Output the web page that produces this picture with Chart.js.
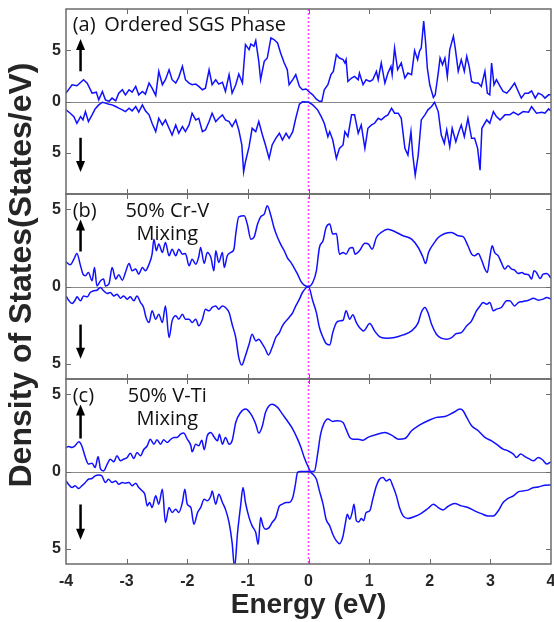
<!DOCTYPE html>
<html>
<head>
<meta charset="utf-8">
<script src="https://cdn.jsdelivr.net/npm/chart.js@4.4.1/dist/chart.umd.min.js"></script>
<style>
  html, body { margin: 0; padding: 0; background: #fff; }
  #wrap { width: 554px; height: 622px; }
</style>
</head>
<body>
<div id="wrap"><canvas id="dosChart" width="554" height="622"></canvas></div>
<script>
// x ticks and the tick values used on every panel
const energyTicks = [-4, -3, -2, -1, 0, 1, 2, 3, 4];
const dosTicks = [-5, 0, 5];

// (a) Ordered SGS phase
const energyAUp = [-4.00,-3.90,-3.82,-3.71,-3.65,-3.57,-3.50,-3.46,-3.40,-3.35,-3.29,-3.24,-3.18,-3.13,-3.07,-3.02,-2.96,-2.91,-2.85,-2.80,-2.74,-2.69,-2.63,-2.58,-2.52,-2.47,-2.41,-2.36,-2.30,-2.25,-2.19,-2.14,-2.08,-2.03,-1.97,-1.92,-1.86,-1.81,-1.75,-1.70,-1.64,-1.59,-1.53,-1.48,-1.42,-1.37,-1.31,-1.26,-1.20,-1.15,-1.09,-1.04,-0.98,-0.95,-0.90,-0.87,-0.82,-0.79,-0.73,-0.68,-0.62,-0.57,-0.51,-0.46,-0.40,-0.35,-0.32,-0.26,-0.21,-0.15,-0.10,-0.04,
  0.00,0.07,0.13,0.18,0.22,0.26,0.32,0.37,0.41,0.46,0.51,0.57,0.60,0.62,0.65,0.71,0.76,0.82,0.84,0.90,0.95,1.01,1.06,1.12,1.15,1.20,1.26,1.31,1.36,1.38,1.42,1.47,1.53,1.59,1.64,1.70,1.75,1.80,1.83,1.86,1.90,1.93,1.96,2.00,2.06,2.09,2.14,2.17,2.21,2.25,2.29,2.33,2.39,2.42,2.47,2.52,2.57,2.61,2.65,2.69,2.74,2.80,2.85,2.91,2.95,2.99,3.02,3.06,3.10,3.16,3.21,3.27,3.32,3.40,3.46,3.51,3.57,3.63,3.68,3.74,3.79,3.85,3.90,3.96,4.00];
const dosAUp = [0.81,1.63,1.53,2.12,1.79,0.81,0.91,0.16,0.98,0.16,0.02,0.33,0.07,0.81,1.14,0.65,1.14,0.91,1.47,0.65,0.98,0.72,1.79,1.30,0.59,2.93,1.63,2.12,3.09,2.12,1.79,2.35,3.42,2.12,1.79,1.63,1.69,1.47,1.14,1.30,3.09,1.63,2.12,1.69,1.86,0.98,2.61,0.81,1.63,2.67,1.79,5.54,5.05,5.60,5.37,5.93,3.91,2.12,3.91,4.23,6.19,6.03,5.70,4.72,3.75,3.09,1.63,2.12,2.61,1.47,1.14,1.21,
  1.00,0.65,0.23,0.02,0.02,1.14,1.63,2.61,2.93,4.56,4.23,4.07,3.75,4.07,1.95,2.28,2.44,2.12,2.77,1.63,2.12,1.95,2.12,2.93,2.12,3.75,1.79,2.77,3.42,2.61,5.21,3.09,3.75,2.28,2.77,2.61,4.95,4.07,4.89,5.21,7.82,5.86,3.26,1.63,0.39,0.65,2.77,4.23,3.58,4.23,2.44,5.05,6.35,5.21,2.93,4.07,2.93,4.40,3.42,1.95,1.79,1.79,1.47,2.93,0.81,0.65,3.75,1.63,2.12,1.47,0.98,0.81,1.14,1.79,0.98,0.33,0.81,0.81,1.04,0.33,0.81,0.65,0.33,0.65,0.65];
const energyADown = [-4.00,-3.93,-3.87,-3.82,-3.76,-3.72,-3.68,-3.63,-3.57,-3.52,-3.46,-3.40,-3.35,-3.29,-3.24,-3.18,-3.13,-3.07,-3.02,-2.96,-2.91,-2.85,-2.80,-2.74,-2.69,-2.63,-2.58,-2.52,-2.47,-2.41,-2.36,-2.30,-2.25,-2.19,-2.14,-2.08,-2.03,-1.97,-1.92,-1.86,-1.81,-1.75,-1.70,-1.64,-1.59,-1.53,-1.48,-1.42,-1.37,-1.31,-1.26,-1.20,-1.15,-1.10,-1.07,-1.04,-0.98,-0.93,-0.87,-0.82,-0.76,-0.71,-0.65,-0.60,-0.54,-0.48,-0.43,-0.37,-0.32,-0.26,-0.21,-0.15,-0.10,
  0.00,0.07,0.15,0.21,0.26,0.32,0.35,0.40,0.46,0.51,0.57,0.60,0.65,0.71,0.76,0.82,0.87,0.93,0.98,1.04,1.09,1.15,1.20,1.26,1.31,1.37,1.42,1.48,1.53,1.59,1.64,1.69,1.72,1.76,1.81,1.86,1.92,1.97,2.03,2.08,2.14,2.19,2.24,2.28,2.33,2.37,2.43,2.48,2.52,2.57,2.63,2.69,2.74,2.79,2.83,2.86,2.94,2.99,3.05,3.10,3.16,3.24,3.32,3.38,3.46,3.54,3.63,3.68,3.76,3.85,3.90,3.96,4.00];
const dosADown = [-0.81,-1.14,-1.47,-2.12,-1.47,-1.79,-0.98,-1.95,-1.30,-0.72,-0.33,-0.07,-0.16,-0.26,-0.33,-0.49,-0.65,-0.81,-0.98,-0.65,-0.91,-0.49,-1.04,-0.33,-0.91,-1.30,-2.12,-2.93,-1.63,-2.28,-1.79,-2.61,-3.26,-2.28,-3.09,-2.44,-2.93,-2.28,-1.14,-1.79,-1.63,-2.93,-2.77,-1.95,-1.14,-1.95,-1.63,-1.30,-1.79,-1.95,-2.44,-1.79,-2.77,-4.23,-6.84,-5.86,-4.40,-2.61,-2.93,-1.95,-3.26,-4.23,-5.54,-4.23,-3.58,-3.09,-3.75,-3.09,-3.58,-2.93,-1.63,-0.26,-0.03,
  -0.05,-0.33,-0.81,-1.47,-2.12,-3.42,-2.93,-3.75,-5.54,-4.56,-4.23,-2.93,-3.42,-1.30,-1.30,-3.09,-2.28,-4.56,-2.61,-2.28,-2.12,-1.63,-1.79,-1.47,-1.30,-0.65,-1.14,-1.14,-1.63,-4.56,-5.21,-2.93,-5.21,-7.17,-5.21,-1.79,-1.30,-0.81,-0.49,-0.07,-0.98,-3.26,-4.07,-2.77,-4.40,-2.61,-3.91,-2.93,-2.28,-3.42,-1.63,-3.58,-3.58,-4.56,-6.68,-2.61,-1.79,-2.12,-0.98,-1.47,-1.79,-1.30,-1.30,-1.04,-1.30,-0.98,-1.04,-0.49,-1.14,-1.04,-1.14,-0.72,-0.91];

// (b) 50% Cr-V mixing
const energyBUp = [-4.00,-3.93,-3.87,-3.82,-3.76,-3.72,-3.68,-3.63,-3.57,-3.53,-3.49,-3.43,-3.38,-3.35,-3.29,-3.24,-3.18,-3.13,-3.07,-3.02,-2.96,-2.91,-2.85,-2.80,-2.74,-2.69,-2.63,-2.58,-2.55,-2.51,-2.47,-2.41,-2.36,-2.30,-2.25,-2.19,-2.14,-2.08,-2.03,-1.97,-1.92,-1.86,-1.81,-1.78,-1.72,-1.67,-1.61,-1.56,-1.53,-1.48,-1.42,-1.39,-1.34,-1.28,-1.23,-1.20,-1.15,-1.06,-1.01,-0.95,-0.90,-0.84,-0.79,-0.73,-0.68,-0.62,-0.57,-0.51,-0.46,-0.40,-0.35,-0.29,-0.24,-0.18,-0.13,-0.07,
  0.00,0.07,0.13,0.18,0.24,0.29,0.35,0.40,0.46,0.51,0.57,0.62,0.68,0.73,0.77,0.84,0.93,0.99,1.05,1.12,1.20,1.31,1.42,1.56,1.70,1.81,1.89,1.93,1.98,2.06,2.14,2.25,2.36,2.47,2.55,2.63,2.69,2.74,2.80,2.85,2.91,2.95,2.99,3.03,3.07,3.13,3.18,3.24,3.29,3.35,3.40,3.46,3.52,3.57,3.63,3.68,3.72,3.76,3.82,3.87,3.93,4.00];
const dosBUp = [1.60,1.41,1.77,2.14,1.34,0.80,0.69,0.91,0.37,1.23,0.04,0.37,0.48,0.04,0.19,1.23,0.48,0.76,0.41,0.91,1.49,1.02,1.13,0.80,1.23,1.02,1.45,2.10,3.07,2.32,2.75,2.21,2.86,1.99,2.42,1.99,2.42,2.10,2.14,1.34,1.77,1.45,1.93,2.53,1.49,2.21,1.88,1.02,2.32,1.56,2.21,1.23,1.99,2.21,2.42,3.40,4.52,4.59,4.05,3.07,3.18,4.05,4.52,4.70,5.24,4.59,3.83,3.18,2.75,2.32,1.88,1.56,1.23,0.80,0.37,0.09,
  0.00,0.26,1.02,2.53,2.97,3.83,4.05,3.40,3.44,2.10,2.21,2.10,2.49,2.53,2.10,2.32,2.81,2.75,2.42,3.18,3.51,3.72,3.57,3.29,3.07,2.53,1.88,1.49,2.21,2.75,3.18,3.44,3.51,3.29,3.23,2.64,2.10,1.99,2.14,1.77,1.13,0.91,1.88,2.64,2.21,1.99,1.56,1.13,1.34,1.13,1.06,0.84,0.91,0.80,0.76,0.48,1.02,0.91,0.52,0.80,0.84,0.54];
const energyBDown = [-4.00,-3.95,-3.90,-3.84,-3.82,-3.76,-3.71,-3.65,-3.60,-3.54,-3.49,-3.43,-3.38,-3.32,-3.27,-3.21,-3.16,-3.10,-3.05,-2.99,-2.94,-2.88,-2.83,-2.77,-2.72,-2.68,-2.63,-2.58,-2.52,-2.47,-2.41,-2.36,-2.30,-2.25,-2.19,-2.14,-2.08,-2.03,-1.97,-1.92,-1.86,-1.81,-1.75,-1.70,-1.64,-1.59,-1.53,-1.48,-1.42,-1.37,-1.31,-1.26,-1.20,-1.15,-1.10,-1.05,-0.98,-0.93,-0.87,-0.82,-0.76,-0.71,-0.66,-0.60,-0.54,-0.48,-0.43,-0.37,-0.32,-0.26,-0.21,-0.15,-0.10,
  0.00,0.07,0.13,0.18,0.24,0.29,0.35,0.40,0.46,0.51,0.57,0.62,0.68,0.73,0.79,0.84,0.91,1.01,1.09,1.17,1.28,1.42,1.56,1.70,1.81,1.86,1.92,1.97,2.03,2.11,2.19,2.28,2.36,2.44,2.52,2.61,2.69,2.77,2.83,2.88,2.94,2.99,3.05,3.10,3.18,3.27,3.32,3.40,3.46,3.54,3.63,3.71,3.79,3.87,3.93,4.00];
const dosBDown = [-0.61,-0.93,-1.10,-0.82,-0.67,-0.93,-0.61,-0.67,-0.39,-0.28,-0.24,-0.06,-0.28,-0.45,-0.39,-0.61,-0.50,-0.76,-0.61,-0.82,-0.67,-0.93,-0.61,-1.04,-1.36,-2.01,-2.34,-1.58,-2.12,-1.80,-2.34,-1.26,-3.31,-2.23,-1.90,-2.12,-1.80,-2.12,-2.12,-2.34,-2.12,-2.55,-2.12,-1.47,-1.58,-1.36,-1.26,-1.47,-1.26,-1.36,-1.69,-2.45,-3.31,-4.61,-5.09,-4.61,-3.74,-3.10,-3.53,-3.42,-3.74,-4.07,-4.44,-3.96,-3.31,-2.99,-2.55,-2.23,-2.01,-1.69,-1.26,-0.82,-0.39,
  -0.02,-0.93,-1.69,-2.66,-3.31,-3.70,-3.79,-2.99,-2.34,-2.23,-2.19,-1.58,-2.12,-1.84,-2.34,-2.66,-2.88,-2.40,-2.88,-3.25,-3.35,-3.31,-3.14,-2.88,-2.34,-1.69,-1.36,-1.69,-2.45,-3.10,-3.35,-3.42,-3.31,-3.05,-2.99,-2.55,-2.23,-1.58,-1.26,-1.04,-1.15,-1.04,-1.58,-1.47,-1.36,-0.93,-0.93,-1.26,-1.04,-0.97,-0.89,-0.76,-0.89,-0.82,-0.71,-0.82];

// (c) 50% V-Ti mixing
const energyCUp = [-4.00,-3.96,-3.90,-3.85,-3.79,-3.74,-3.68,-3.63,-3.57,-3.52,-3.47,-3.43,-3.38,-3.32,-3.27,-3.21,-3.16,-3.10,-3.05,-2.99,-2.94,-2.88,-2.83,-2.77,-2.72,-2.66,-2.61,-2.55,-2.50,-2.44,-2.39,-2.33,-2.28,-2.22,-2.17,-2.11,-2.06,-2.00,-1.94,-1.92,-1.86,-1.81,-1.76,-1.72,-1.67,-1.61,-1.56,-1.50,-1.47,-1.42,-1.37,-1.31,-1.26,-1.20,-1.12,-1.04,-0.95,-0.87,-0.82,-0.76,-0.71,-0.65,-0.60,-0.51,-0.43,-0.35,-0.26,-0.18,-0.13,-0.07,
  0.00,0.04,0.10,0.15,0.20,0.25,0.32,0.40,0.48,0.57,0.62,0.68,0.73,0.82,0.90,0.98,1.09,1.26,1.37,1.48,1.59,1.70,1.83,1.97,2.11,2.25,2.39,2.50,2.55,2.61,2.69,2.80,2.91,3.02,3.10,3.21,3.29,3.38,3.43,3.50,3.57,3.65,3.71,3.79,3.86,3.93,4.00];
const dosCUp = [1.56,1.62,1.56,1.67,1.93,1.67,0.91,0.48,0.54,0.26,0.97,0.15,0.04,0.48,0.80,0.63,1.02,0.69,0.80,0.91,1.19,0.84,1.23,1.02,1.41,1.67,2.10,1.77,2.06,1.77,2.06,1.88,2.06,2.21,2.21,2.42,2.49,2.10,1.67,1.28,1.77,1.67,2.03,1.41,2.32,2.53,2.25,1.99,2.42,1.77,2.21,1.77,1.99,3.18,3.83,4.05,3.72,3.07,2.49,2.97,3.83,4.26,4.37,4.16,3.72,3.29,2.75,2.10,1.62,0.91,
  0.26,0.00,0.04,1.13,2.42,3.07,3.40,3.25,3.29,3.18,2.75,2.21,2.10,2.10,2.03,2.21,2.36,2.53,2.36,2.10,2.14,2.64,3.01,3.29,3.51,3.57,3.83,4.05,3.94,3.51,2.97,2.64,2.21,1.99,1.77,1.45,1.34,1.13,0.91,1.13,0.97,0.80,0.69,0.91,0.76,0.48,0.63];
const energyCDown = [-4.00,-3.96,-3.90,-3.85,-3.79,-3.74,-3.68,-3.63,-3.57,-3.52,-3.46,-3.41,-3.35,-3.30,-3.24,-3.18,-3.13,-3.07,-3.02,-2.96,-2.91,-2.85,-2.80,-2.74,-2.70,-2.66,-2.62,-2.58,-2.52,-2.47,-2.41,-2.36,-2.30,-2.25,-2.19,-2.14,-2.08,-2.04,-2.00,-1.94,-1.89,-1.83,-1.78,-1.72,-1.67,-1.61,-1.59,-1.53,-1.48,-1.42,-1.37,-1.31,-1.26,-1.22,-1.17,-1.12,-1.08,-1.04,-0.98,-0.93,-0.87,-0.83,-0.79,-0.75,-0.71,-0.65,-0.60,-0.54,-0.48,-0.43,-0.37,-0.32,-0.26,-0.22,-0.18,-0.13,
  0.00,0.07,0.13,0.18,0.24,0.29,0.35,0.40,0.46,0.51,0.57,0.61,0.64,0.68,0.72,0.75,0.79,0.83,0.87,0.91,0.95,1.01,1.06,1.12,1.17,1.23,1.28,1.34,1.39,1.45,1.50,1.56,1.64,1.75,1.86,1.97,2.06,2.14,2.22,2.30,2.41,2.52,2.63,2.74,2.85,2.96,3.05,3.13,3.21,3.29,3.38,3.46,3.54,3.63,3.71,3.79,3.90,4.00];
const dosCDown = [-0.61,-0.82,-1.04,-0.93,-1.10,-0.93,-0.71,-0.50,-0.45,-0.28,-0.22,-0.28,-0.71,-0.50,-0.71,-0.61,-0.82,-0.71,-0.76,-0.71,-0.93,-0.76,-1.04,-1.26,-1.47,-2.23,-2.01,-2.34,-1.58,-2.12,-1.15,-3.31,-2.34,-2.66,-2.45,-2.66,-2.01,-1.15,-2.12,-2.34,-3.42,-2.66,-2.34,-1.80,-1.90,-1.58,-1.26,-2.12,-1.47,-2.01,-2.45,-3.31,-4.61,-6.23,-3.96,-2.23,-1.04,-2.01,-2.99,-3.53,-3.96,-4.72,-2.99,-3.53,-3.74,-3.64,-3.31,-2.99,-2.23,-2.12,-2.01,-2.01,-1.69,-0.93,-0.06,0.00,
  0.00,-0.17,-0.50,-1.26,-2.12,-3.10,-3.53,-4.07,-4.50,-4.68,-4.18,-3.31,-2.77,-3.10,-2.66,-2.12,-3.20,-3.27,-3.05,-3.20,-2.66,-2.55,-1.80,-0.93,-0.50,-0.39,-0.61,-0.50,-0.93,-1.58,-2.34,-2.88,-3.05,-2.92,-2.71,-2.40,-2.12,-2.34,-2.49,-2.27,-2.08,-2.23,-2.34,-2.55,-2.73,-2.88,-2.88,-2.55,-2.01,-1.75,-1.58,-1.32,-1.26,-1.19,-1.04,-1.00,-0.89,-0.87];

const textColor = "#262626";
const frameColor = "#6b6b6b";
const lineColor = "#1010ff";
const tickFont = { family: "'Liberation Sans', Arial, sans-serif", size: 16, weight: "bold" };
const noteFont = "20px 'Open Sans', sans-serif";

// panel notes, placed in data units of each panel
const panels = [
  { id: "yA", range: 9, notes: [
      { text: "(a)", x: -3.89, y: 7.45, align: "left" },
      { text: "Ordered SGS Phase", x: -3.37, y: 7.45, align: "left" }],
    arrows: [[2.94, 6.08], [-3.53, -6.86]] },
  { id: "yB", range: 6, notes: [
      { text: "(b)", x: -3.89, y: 4.87, align: "left" },
      { text: "50% Cr-V", x: -2.33, y: 4.87, align: "center" },
      { text: "Mixing", x: -2.33, y: 3.38, align: "center" }],
    arrows: [[2.27, 4.35], [-2.47, -4.68]] },
  { id: "yC", range: 6, notes: [
      { text: "(c)", x: -3.89, y: 4.87, align: "left" },
      { text: "50% V-Ti", x: -2.33, y: 4.87, align: "center" },
      { text: "Mixing", x: -2.33, y: 3.38, align: "center" }],
    arrows: [[2.14, 4.35], [-2.14, -4.42]] },
];
const arrowEnergy = -3.76;

const toPoints = (xs, ys) => xs.map((x, i) => ({ x: x, y: ys[i] }));

const makeSet = (xs, ys, axis, smooth) => ({
  data: toPoints(xs, ys),
  yAxisID: axis,
  borderColor: lineColor,
  borderWidth: 1.5,
  pointRadius: 0,
  fill: false,
  cubicInterpolationMode: smooth ? "monotone" : "default",
  tension: 0,
});

const panelScale = (range, weight) => ({
  type: "linear",
  position: "left",
  stack: "dos",
  stackWeight: 1,
  weight: weight,
  min: -range,
  max: range,
  grid: { display: false, drawTicks: false },
  border: { display: false },
  afterBuildTicks: (scale) => {
    scale.ticks = dosTicks.map((v) => ({ value: v }));
  },
  afterFit: (scale) => {
    scale.width = 66;
    scale.paddingTop = 0;
    scale.paddingBottom = 0;
  },
  ticks: {
    color: textColor,
    font: tickFont,
    padding: 5,
    callback: (v) => Math.abs(v),
  },
});

const frame = {
  id: "frame",
  beforeDatasetsDraw(chart) {
    const { ctx, chartArea, scales } = chart;
    ctx.save();
    // zero lines
    ctx.strokeStyle = "#8a8a8a";
    ctx.lineWidth = 1;
    panels.forEach((p) => {
      const y0 = Math.round(scales[p.id].getPixelForValue(0)) + 0.5;
      ctx.beginPath();
      ctx.moveTo(chartArea.left, y0);
      ctx.lineTo(chartArea.right, y0);
      ctx.stroke();
    });
    // Fermi level
    const xf = scales.x.getPixelForValue(0);
    ctx.strokeStyle = "#ff40ff";
    ctx.lineWidth = 1.5;
    ctx.setLineDash([2, 2]);
    ctx.beginPath();
    ctx.moveTo(xf, chartArea.top);
    ctx.lineTo(xf, chartArea.bottom);
    ctx.stroke();
    ctx.restore();
  },
  afterDatasetsDraw(chart) {
    const { ctx, chartArea, scales } = chart;
    const xs = scales.x;
    ctx.save();
    panels.forEach((p) => {
      const s = scales[p.id];
      // box and inward ticks
      ctx.strokeStyle = frameColor;
      ctx.lineWidth = 1.5;
      ctx.strokeRect(chartArea.left, s.top, chartArea.right - chartArea.left, s.bottom - s.top);
      ctx.lineWidth = 1;
      ctx.beginPath();
      energyTicks.slice(1, -1).forEach((e) => {
        const px = Math.round(xs.getPixelForValue(e)) + 0.5;
        ctx.moveTo(px, s.top);
        ctx.lineTo(px, s.top + 5);
        ctx.moveTo(px, s.bottom);
        ctx.lineTo(px, s.bottom - 5);
      });
      dosTicks.forEach((v) => {
        const py = Math.round(s.getPixelForValue(v)) + 0.5;
        ctx.moveTo(chartArea.left, py);
        ctx.lineTo(chartArea.left + 5, py);
        ctx.moveTo(chartArea.right, py);
        ctx.lineTo(chartArea.right - 5, py);
      });
      ctx.stroke();

      // notes
      ctx.fillStyle = "#111";
      ctx.font = noteFont;
      ctx.textBaseline = "middle";
      p.notes.forEach((n) => {
        ctx.textAlign = n.align;
        ctx.fillText(n.text, xs.getPixelForValue(n.x), s.getPixelForValue(n.y));
      });

      // spin arrows
      const ax = xs.getPixelForValue(arrowEnergy);
      p.arrows.forEach(([from, to]) => {
        const y1 = s.getPixelForValue(from);
        const y2 = s.getPixelForValue(to);
        const dir = y2 < y1 ? -1 : 1;
        ctx.strokeStyle = "#000";
        ctx.fillStyle = "#000";
        ctx.lineWidth = 2.5;
        ctx.beginPath();
        ctx.moveTo(ax, y1);
        ctx.lineTo(ax, y2 - dir * 9);
        ctx.stroke();
        ctx.beginPath();
        ctx.moveTo(ax, y2);
        ctx.lineTo(ax - 4.5, y2 - dir * 11);
        ctx.lineTo(ax + 4.5, y2 - dir * 11);
        ctx.closePath();
        ctx.fill();
      });
    });

    // shared y title
    ctx.save();
    ctx.translate(22, 275);
    ctx.rotate(-Math.PI / 2);
    ctx.fillStyle = textColor;
    ctx.font = "bold 32px 'Liberation Sans', Arial, sans-serif";
    ctx.textAlign = "center";
    ctx.textBaseline = "middle";
    ctx.fillText("Density of States(States/eV)", 0, 0);
    ctx.restore();
    ctx.restore();
  },
};

new Chart(document.getElementById("dosChart"), {
  type: "line",
  data: {
    datasets: [
      makeSet(energyAUp, dosAUp, "yA", false),
      makeSet(energyADown, dosADown, "yA", false),
      makeSet(energyBUp, dosBUp, "yB", true),
      makeSet(energyBDown, dosBDown, "yB", true),
      makeSet(energyCUp, dosCUp, "yC", true),
      makeSet(energyCDown, dosCDown, "yC", true),
    ],
  },
  options: {
    responsive: false,
    animation: false,
    layout: { padding: { top: 9, right: 3, left: 0, bottom: 0 } },
    plugins: { legend: { display: false }, tooltip: { enabled: false } },
    scales: {
      x: {
        type: "linear",
        min: -4,
        max: 4,
        grid: { display: false, drawTicks: false },
        border: { display: false },
        afterBuildTicks: (scale) => {
          scale.ticks = energyTicks.map((v) => ({ value: v }));
        },
        afterFit: (scale) => {
          scale.height = 58;
          scale.paddingLeft = 0;
          scale.paddingRight = 0;
        },
        ticks: { color: textColor, font: tickFont, padding: 8, maxRotation: 0 },
        title: {
          display: true,
          text: "Energy (eV)",
          color: textColor,
          font: { family: "'Liberation Sans', Arial, sans-serif", size: 28, weight: "bold" },
          padding: 0,
        },
      },
      yA: panelScale(9, 3),
      yB: panelScale(6, 2),
      yC: panelScale(6, 1),
    },
  },
  plugins: [frame],
});
</script>
</body>
</html>
